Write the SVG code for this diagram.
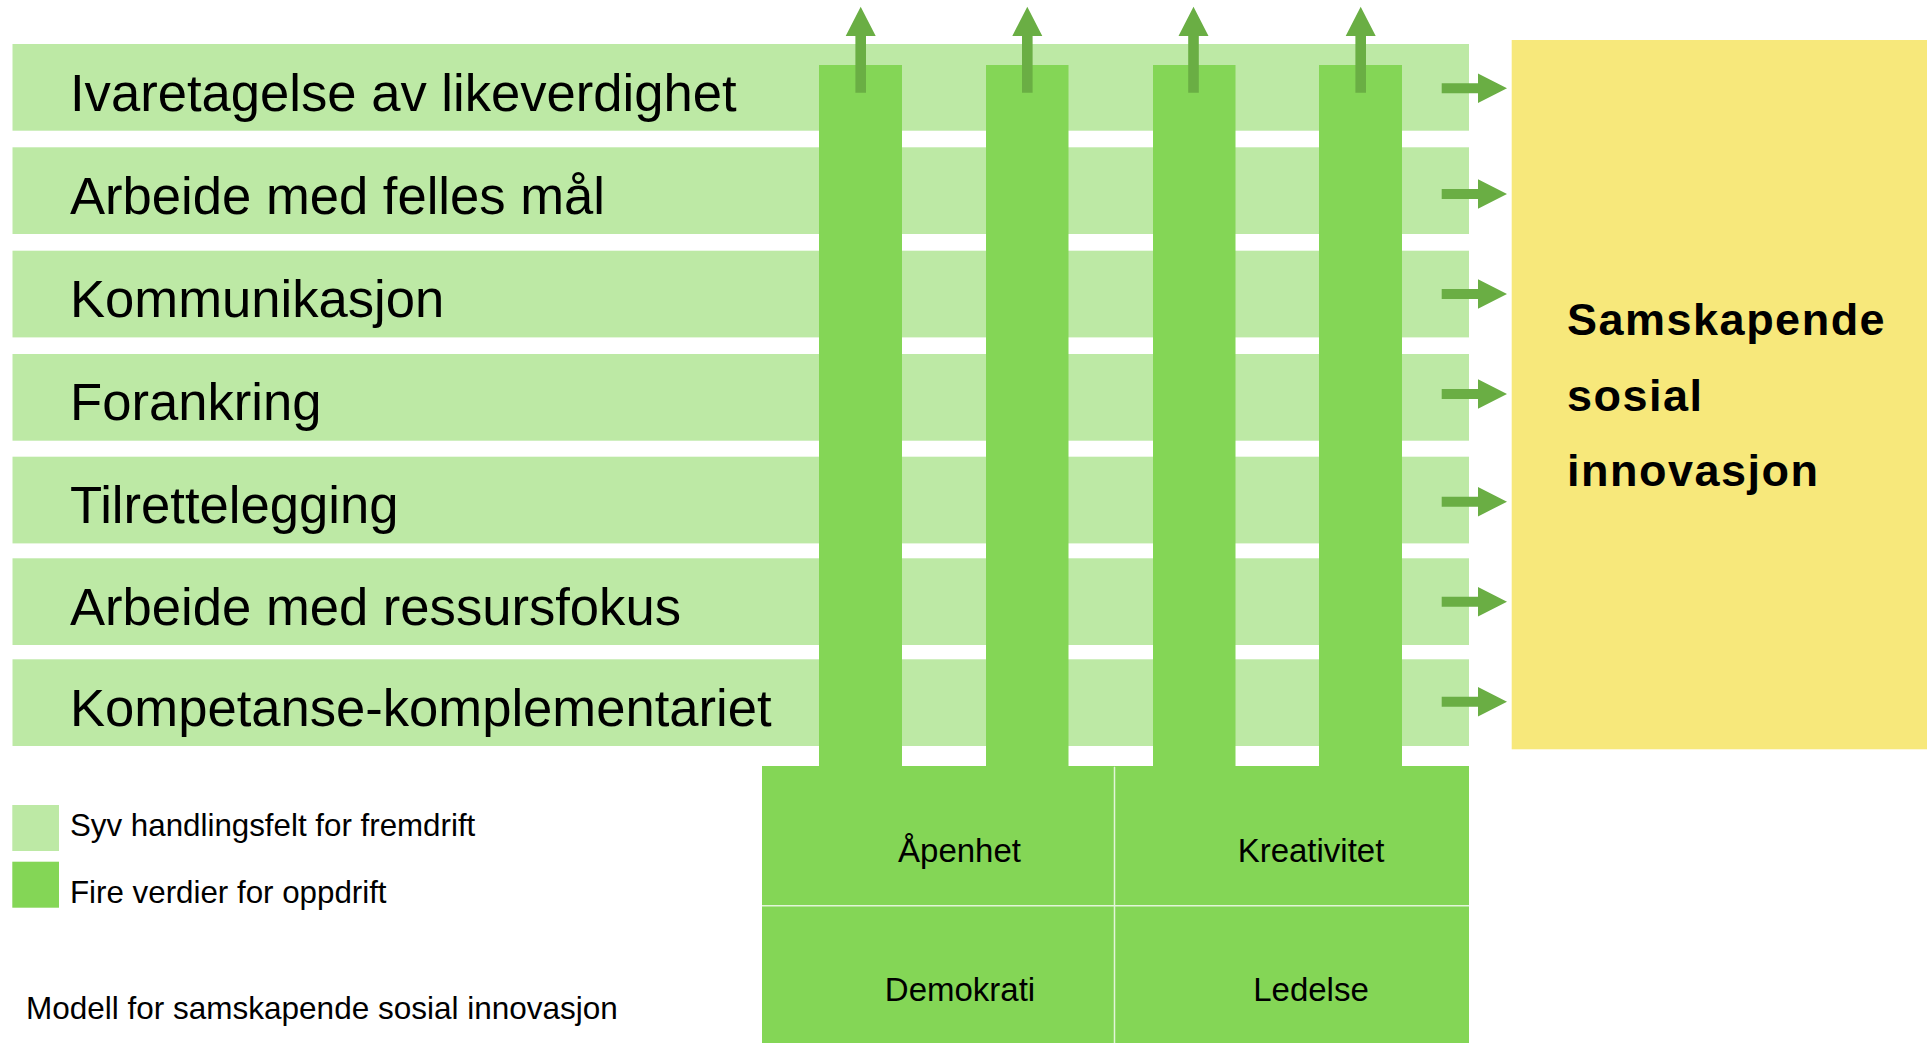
<svg xmlns="http://www.w3.org/2000/svg" width="1927" height="1043" viewBox="0 0 1927 1043">
  <style>
    .bar { fill: #bde9a5; }
    .col { fill: #84d656; }
    .label { font-family: "Liberation Sans", Arial, sans-serif; font-size: 52.6px; fill: #000; }
    .cell { font-family: "Liberation Sans", Arial, sans-serif; font-size: 33px; fill: #000; text-anchor: middle; }
    .legend { font-family: "Liberation Sans", Arial, sans-serif; font-size: 31.3px; fill: #000; }
    .caption { font-family: "Liberation Sans", Arial, sans-serif; font-size: 31.5px; fill: #000; }
    .goal { font-family: "Liberation Sans", Arial, sans-serif; font-size: 45px; font-weight: bold; letter-spacing: 1.5px; fill: #000; }
    .arrow { fill: #6aae44; }
    .divider { stroke: #e2f5d8; stroke-width: 1.5; }
  </style>
  <defs>
    <path id="upArrow" d="M -5.3 92.7 L -5.3 36 L -15 36 L 0 6.7 L 15 36 L 5.3 36 L 5.3 92.7 Z"/>
    <path id="rightArrow" d="M 1441.7 -5 L 1478 -5 L 1478 -14.7 L 1507 0 L 1478 14.7 L 1478 5 L 1441.7 5 Z"/>
  </defs>
  <rect width="1927" height="1043" fill="#ffffff"/>

  <g id="bar-1"><rect class="bar" x="12.5" y="44" width="1456.5" height="86.7"/><text class="label" x="70" y="111">Ivaretagelse av likeverdighet</text></g>
  <g id="bar-2"><rect class="bar" x="12.5" y="147.3" width="1456.5" height="86.7"/><text class="label" x="70" y="214">Arbeide med felles mål</text></g>
  <g id="bar-3"><rect class="bar" x="12.5" y="250.7" width="1456.5" height="86.7"/><text class="label" x="70" y="317">Kommunikasjon</text></g>
  <g id="bar-4"><rect class="bar" x="12.5" y="354" width="1456.5" height="86.7"/><text class="label" x="70" y="420">Forankring</text></g>
  <g id="bar-5"><rect class="bar" x="12.5" y="456.7" width="1456.5" height="86.7"/><text class="label" x="70" y="523">Tilrettelegging</text></g>
  <g id="bar-6"><rect class="bar" x="12.5" y="558.3" width="1456.5" height="86.7"/><text class="label" x="70" y="625">Arbeide med ressursfokus</text></g>
  <g id="bar-7"><rect class="bar" x="12.5" y="659.3" width="1456.5" height="86.7"/><text class="label" x="70" y="726">Kompetanse-komplementariet</text></g>

  <g id="column-1"><rect class="col" x="819" y="65" width="83" height="702"/></g>
  <g id="column-2"><rect class="col" x="986" y="65" width="82.5" height="702"/></g>
  <g id="column-3"><rect class="col" x="1153" y="65" width="82.5" height="702"/></g>
  <g id="column-4"><rect class="col" x="1319" y="65" width="83" height="702"/></g>

  <g id="value-apenhet"><rect class="col" x="762" y="766" width="352.5" height="140"/><text class="cell" x="959.5" y="861.7">Åpenhet</text></g>
  <g id="value-kreativitet"><rect class="col" x="1114.5" y="766" width="354.5" height="140"/><text class="cell" x="1311" y="861.7">Kreativitet</text></g>
  <g id="value-demokrati"><rect class="col" x="762" y="905.7" width="352.5" height="137.3"/><text class="cell" x="960" y="1000.7">Demokrati</text></g>
  <g id="value-ledelse"><rect class="col" x="1114.5" y="905.7" width="354.5" height="137.3"/><text class="cell" x="1311" y="1000.7">Ledelse</text></g>
  <g id="value-dividers">
    <line class="divider" x1="1114.5" y1="767" x2="1114.5" y2="1043"/>
    <line class="divider" x1="762" y1="905.7" x2="1469" y2="905.7"/>
  </g>

  <g id="outcome">
    <rect x="1511.7" y="40" width="415.3" height="709.3" fill="#f7e87b"/>
    <text class="goal" x="1567" y="335">Samskapende</text>
    <text class="goal" x="1567" y="411">sosial</text>
    <text class="goal" x="1567" y="486">innovasjon</text>
  </g>

  <g id="connectors">
    <use href="#upArrow" class="arrow" transform="translate(860.7,0)"/>
    <use href="#upArrow" class="arrow" transform="translate(1027.3,0)"/>
    <use href="#upArrow" class="arrow" transform="translate(1193.5,0)"/>
    <use href="#upArrow" class="arrow" transform="translate(1360.7,0)"/>
    <use href="#rightArrow" class="arrow" transform="translate(0,88.3)"/>
    <use href="#rightArrow" class="arrow" transform="translate(0,194)"/>
    <use href="#rightArrow" class="arrow" transform="translate(0,294)"/>
    <use href="#rightArrow" class="arrow" transform="translate(0,394)"/>
    <use href="#rightArrow" class="arrow" transform="translate(0,501.7)"/>
    <use href="#rightArrow" class="arrow" transform="translate(0,601.7)"/>
    <use href="#rightArrow" class="arrow" transform="translate(0,701.7)"/>
  </g>

  <g id="legend">
    <rect class="bar" x="12.3" y="805" width="46.7" height="46"/>
    <text class="legend" x="70" y="836">Syv handlingsfelt for fremdrift</text>
    <rect class="col" x="12.3" y="861.7" width="46.7" height="46"/>
    <text class="legend" x="70" y="903.3">Fire verdier for oppdrift</text>
  </g>
  <g id="caption">
    <text class="caption" x="26" y="1019.3">Modell for samskapende sosial innovasjon</text>
  </g>
</svg>
